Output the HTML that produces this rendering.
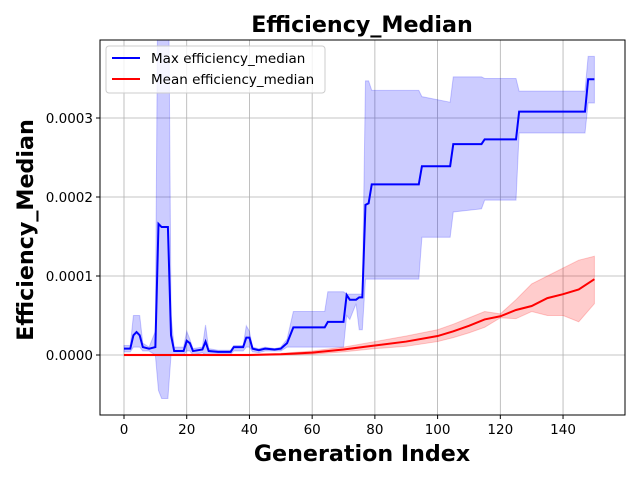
<!DOCTYPE html>
<html><head><meta charset="utf-8"><style>
body{margin:0;background:#fff}
svg{font-family:"DejaVu Sans","Liberation Sans",sans-serif}
</style></head><body>
<svg id="c" width="640" height="480">
<rect width="640" height="480" fill="#fff"/>
<g id="grid"></g>
<g id="marks"></g>
<rect x="100" y="40" width="525" height="375" fill="none" stroke="#000" stroke-width="1"/>
<g id="axes"></g>
<text x="362" y="32" font-size="22.2" font-weight="bold" text-anchor="middle">Efficiency_Median</text>
<text x="362" y="461" font-size="22.2" font-weight="bold" text-anchor="middle">Generation Index</text>
<text x="33" y="230" font-size="22.2" font-weight="bold" text-anchor="middle" transform="rotate(-90 33 230)">Efficiency_Median</text>
<g>
<rect x="106" y="46" width="219" height="47" rx="3" fill="#fff" fill-opacity="0.8" stroke="#ccc"/>
<line x1="112" y1="58" x2="140" y2="58" stroke="#00f" stroke-width="2"/>
<text x="151" y="63" font-size="13.5">Max efficiency_median</text>
<line x1="112" y1="79" x2="140" y2="79" stroke="#f00" stroke-width="2"/>
<text x="151" y="84" font-size="13.5">Mean efficiency_median</text>
</g>
</svg>
<script>
// values in units of 1e-4
const maxX  = [0,2,3,4,5,6,8,10,11,12,14,15,16,19,20,21,22,25,26,27,30,34,35,38,39,40,41,43,45,48,50,52,54,64,65,70,71,72,74,75,76,77,78,79,94,95,104,105,114,115,125,126,147,148,150];
const maxV  = [0.08,0.08,0.25,0.29,0.25,0.1,0.08,0.1,1.66,1.62,1.62,0.25,0.05,0.05,0.18,0.15,0.05,0.07,0.17,0.05,0.04,0.04,0.1,0.1,0.22,0.22,0.08,0.06,0.08,0.07,0.08,0.15,0.35,0.35,0.42,0.42,0.76,0.7,0.7,0.73,0.73,1.9,1.92,2.16,2.16,2.39,2.39,2.67,2.67,2.73,2.73,3.08,3.08,3.49,3.49];
const maxHi = [0.12,0.12,0.5,0.5,0.5,0.15,0.1,0.3,6,6,6,0.5,0.1,0.1,0.3,0.2,0.08,0.1,0.38,0.08,0.06,0.06,0.12,0.12,0.37,0.3,0.1,0.08,0.1,0.08,0.1,0.2,0.55,0.55,0.8,0.8,0.77,0.77,0.77,0.77,0.77,3.47,3.47,3.35,3.35,3.27,3.2,3.52,3.52,3.5,3.5,3.34,3.34,3.78,3.78];
const maxLo = [0.04,0.04,0.1,0.1,0.1,0.05,0.05,0.0,-0.45,-0.55,-0.55,0.0,0.0,0.0,0.05,0.05,0.0,0.03,0.0,0.0,0.01,0.01,0.05,0.05,0.1,0.1,0.04,0.03,0.05,0.05,0.05,0.1,0.1,0.1,0.1,0.1,0.5,0.45,0.65,0.32,0.32,0.96,0.96,0.96,0.96,1.49,1.49,1.81,1.85,1.96,1.96,2.81,2.81,3.19,3.19];
const meanX  = [0,20,40,50,60,70,80,90,100,105,110,115,120,125,130,135,140,145,150];
const meanV  = [0,0,0,0.01,0.03,0.07,0.12,0.17,0.24,0.3,0.37,0.45,0.49,0.57,0.62,0.72,0.77,0.83,0.96];
const meanHi = [0.01,0.01,0.01,0.02,0.05,0.1,0.17,0.24,0.32,0.39,0.47,0.55,0.52,0.7,0.9,1.0,1.1,1.2,1.25];
const meanLo = [-0.01,-0.01,-0.01,0.0,0.01,0.04,0.08,0.11,0.17,0.22,0.28,0.35,0.47,0.46,0.55,0.5,0.5,0.42,0.65];
const xTicks = [0,20,40,60,80,100,120,140];
const yTicks = [0,1,2,3];
const yTickLabels = ["0.0000","0.0001","0.0002","0.0003"];

const NS="http://www.w3.org/2000/svg";
const sx=v=>124+3.136*v, sy=v=>355-79*v;
function mk(tag,attrs,parent){const e=document.createElementNS(NS,tag);for(const k in attrs)e.setAttribute(k,attrs[k]);parent.appendChild(e);return e;}
const grid=document.getElementById('grid'),axes=document.getElementById('axes'),marks=document.getElementById('marks');
xTicks.forEach(t=>{
  const g=mk('line',{x1:sx(t),x2:sx(t),y1:40,y2:415,stroke:'#b0b0b0','stroke-width':0.8},grid);
  
  
  const k=mk('line',{x1:sx(t),x2:sx(t),y1:415,y2:419,stroke:'#000'},axes);
  
  
  const l=mk('text',{x:sx(t),y:434,'font-size':13.5,'text-anchor':'middle'},axes);l.textContent=t;
  
  
});
yTicks.forEach((t,i)=>{
  const g=mk('line',{x1:100,x2:625,y1:sy(t),y2:sy(t),stroke:'#b0b0b0','stroke-width':0.8},grid);
  
  
  const k=mk('line',{x1:96,x2:100,y1:sy(t),y2:sy(t),stroke:'#000'},axes);
  
  
  const l=mk('text',{x:93,y:sy(t)+5,'font-size':13.5,'text-anchor':'end'},axes);l.textContent=yTickLabels[i];
  
  
});
const clip=mk('clipPath',{id:'pc'},mk('defs',{},marks));
mk('rect',{x:100,y:40,width:525,height:375},clip);
const cg=mk('g',{'clip-path':'url(#pc)'},marks);
function band(xs,lo,hi,color,name){
  let d='M'+xs.map((x,i)=>sx(x)+','+sy(hi[i])).join('L');
  for(let i=xs.length-1;i>=0;i--)d+='L'+sx(xs[i])+','+sy(lo[i]);
  const p=mk('path',{d:d+'Z',fill:color,'fill-opacity':0.2,stroke:color,'stroke-opacity':0.2},cg);
  
  
}
function line(xs,v,color,name){
  const p=mk('path',{d:'M'+xs.map((x,i)=>sx(x)+','+sy(v[i])).join('L'),fill:'none',stroke:color,'stroke-width':2},cg);
  
  
}
band(maxX,maxLo,maxHi,'#00f','max-band');
band(meanX,meanLo,meanHi,'#f00','mean-band');
line(maxX,maxV,'#00f','max-line');
line(meanX,meanV,'#f00','mean-line');
</script>
</body></html>
